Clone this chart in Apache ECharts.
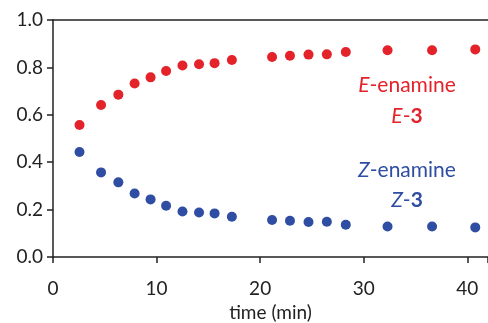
<!DOCTYPE html>
<html>
<head>
<meta charset="utf-8">
<script src="https://cdn.jsdelivr.net/npm/echarts@6/dist/echarts.min.js"></script>
<style>
  html, body { margin: 0; padding: 0; background: #fff; }
  #chart { width: 488px; height: 323px; }
</style>
</head>
<body>
<div id="chart"></div>
<script>
// time points (min)
const times = [2.56, 4.64, 6.31, 7.88, 9.42, 10.92, 12.5, 14.1, 15.6, 17.27,
  21.15, 22.88, 24.67, 26.44, 28.27, 32.3, 36.6, 40.77]
// fraction of E-enamine
const eValues = [0.557, 0.641, 0.685, 0.732, 0.758, 0.785, 0.808, 0.813, 0.818, 0.831,
  0.844, 0.849, 0.854, 0.855, 0.865, 0.872, 0.872, 0.876]
// fraction of Z-enamine
const zValues = [0.443, 0.357, 0.315, 0.268, 0.243, 0.216, 0.192, 0.188, 0.184, 0.170,
  0.156, 0.153, 0.148, 0.149, 0.136, 0.129, 0.129, 0.125]
const xTicks = [0, 10, 20, 30, 40]
const yTicks = ['0.0', '0.2', '0.4', '0.6', '0.8', '1.0']

const RED = '#e4222a'
const BLUE = '#2f4ea3'
const FONT = 'Lato'
const TICK_SIZE = 19
const NOTE_SIZE = 21

const chart = echarts.init(document.getElementById('chart'))

const toPoints = (vals) => times.map((t, i) => [t, vals[i]])

const axisLine = { lineStyle: { color: '#222', width: 1.5 } }

// two-line label like "E-enamine" / "E-3"
function note(letter, y, color, bold) {
  const rich = {
    i: { fontFamily: FONT, fontSize: NOTE_SIZE, fontStyle: 'italic', fill: color },
    n: { fontFamily: FONT, fontSize: NOTE_SIZE, fill: color },
    b: { fontFamily: FONT, fontSize: NOTE_SIZE, fontWeight: 'bold', fill: color }
  }
  return {
    type: 'text',
    style: {
      x: 407, y: y, align: 'center', verticalAlign: 'middle',
      text: bold ? `{i|${letter}}{n|-}{b|3}` : `{i|${letter}}{n|-enamine}`,
      rich: rich
    }
  }
}

chart.setOption({
  animation: false,
  grid: { left: 53, right: 0, top: 20, bottom: 66, outerBoundsMode: 'none' },
  xAxis: [{
    type: 'value',
    min: 0,
    max: 42,
    interval: 10,
    name: 'time (min)',
    nameLocation: 'middle',
    nameGap: 46,
    nameTextStyle: { fontFamily: FONT, fontSize: TICK_SIZE, color: '#222' },
    axisLine: axisLine,
    axisTick: { show: true, length: 6, lineStyle: { color: '#222', width: 1.5 } },
    axisLabel: {
      fontFamily: FONT, fontSize: TICK_SIZE, color: '#222', margin: 22,
      formatter: (v) => (xTicks.includes(v) ? String(v) : '')
    },
    splitLine: { show: false }
  }, {
    type: 'value',
    position: 'top',
    min: 0,
    max: 42,
    axisLine: axisLine,
    axisTick: { show: false },
    axisLabel: { show: false },
    splitLine: { show: false }
  }],
  yAxis: {
    type: 'value',
    min: 0,
    max: 1,
    interval: 0.2,
    axisLine: { show: true, lineStyle: { color: '#222', width: 1.5 } },
    axisTick: { show: true, length: 6, lineStyle: { color: '#222', width: 1.5 } },
    axisLabel: {
      fontFamily: FONT, fontSize: TICK_SIZE, color: '#222', margin: 10,
      formatter: (v) => yTicks[Math.round(v * 5)]
    },
    splitLine: { show: false }
  },
  series: [{
    type: 'scatter',
    name: 'E',
    data: toPoints(eValues),
    symbolSize: 10,
    itemStyle: { color: RED, opacity: 1 }
  }, {
    type: 'scatter',
    name: 'Z',
    data: toPoints(zValues),
    symbolSize: 10,
    itemStyle: { color: BLUE, opacity: 1 }
  }],
  graphic: [
    note('E', 85, RED, false),
    note('E', 116, RED, true),
    note('Z', 170, BLUE, false),
    note('Z', 200, BLUE, true)
  ]
})
</script>
</body>
</html>
